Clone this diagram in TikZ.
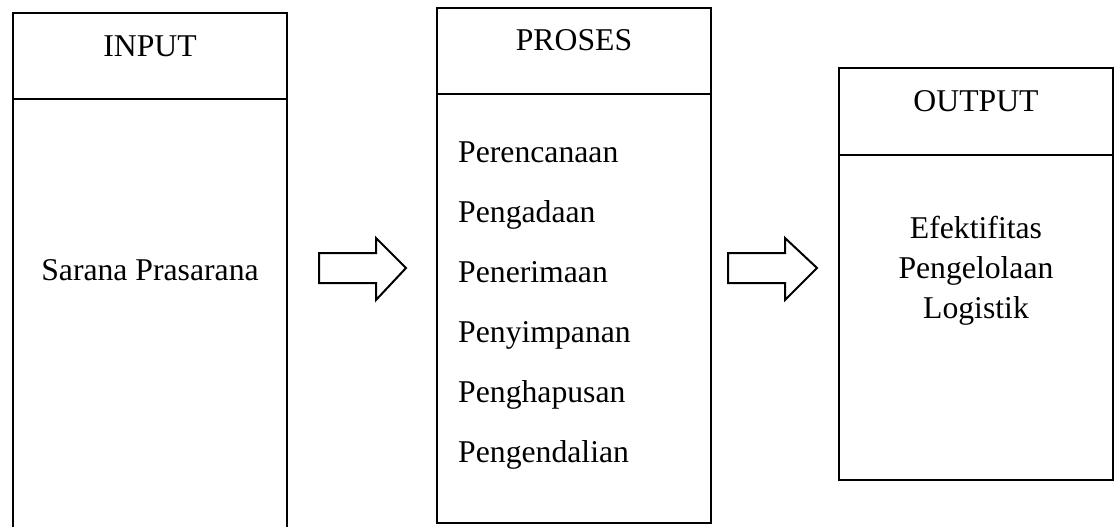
\documentclass[tikz,border=0pt]{standalone}
\usepackage{fontspec}
\setmainfont{Liberation Serif}
\begin{document}
\begin{tikzpicture}[x=1pt,y=-1pt,
  boxline/.style={draw=black,line width=2.6pt},
  blockarrow/.style={draw=black,line width=2pt,line join=miter,fill=white},
  lbl/.style={inner sep=0pt,font=\fontsize{31.7}{38}\selectfont},
]
\clip (0,0) rectangle (1120,527);
\fill[white] (0,0) rectangle (1120,527);
% INPUT box
\draw[boxline] (13,540) -- (13,13) -- (287,13) -- (287,540);
\draw[boxline] (13,99) -- (287,99);
\node[lbl,anchor=base] (inputT) at (150,57) {INPUT};
\node[lbl,anchor=base] (sarana) at (150,280) {Sarana Prasarana};
% PROSES box
\draw[boxline] (437,8) rectangle (711,523);
\draw[boxline] (437,94) -- (711,94);
\node[lbl,anchor=base] (prosesT) at (574,51) {PROSES};
\node[lbl,anchor=base west] (p1) at (458,162.5) {Perencanaan};
\node[lbl,anchor=base west] (p2) at (458,222.5) {Pengadaan};
\node[lbl,anchor=base west] (p3) at (458,282.5) {Penerimaan};
\node[lbl,anchor=base west] (p4) at (458,342.5) {Penyimpanan};
\node[lbl,anchor=base west] (p5) at (458,402.5) {Penghapusan};
\node[lbl,anchor=base west] (p6) at (458,462.5) {Pengendalian};
% OUTPUT box
\draw[boxline] (839,68) rectangle (1113,480);
\draw[boxline] (839,155) -- (1113,155);
\node[lbl,anchor=base] (outputT) at (976,111) {OUTPUT};
\node[lbl,anchor=base] (o1) at (976,238) {Efektifitas};
\node[lbl,anchor=base] (o2) at (976,278) {Pengelolaan};
\node[lbl,anchor=base] (o3) at (976,318) {Logistik};
% block arrows
\draw[blockarrow] (319,253) -- (376,253) -- (376,238) -- (406,268) -- (376,300) -- (376,283) -- (319,283) -- cycle;
\draw[blockarrow] (728,253) -- (785,253) -- (785,238) -- (817,268) -- (785,300) -- (785,283) -- (728,283) -- cycle;
\end{tikzpicture}
\end{document}
